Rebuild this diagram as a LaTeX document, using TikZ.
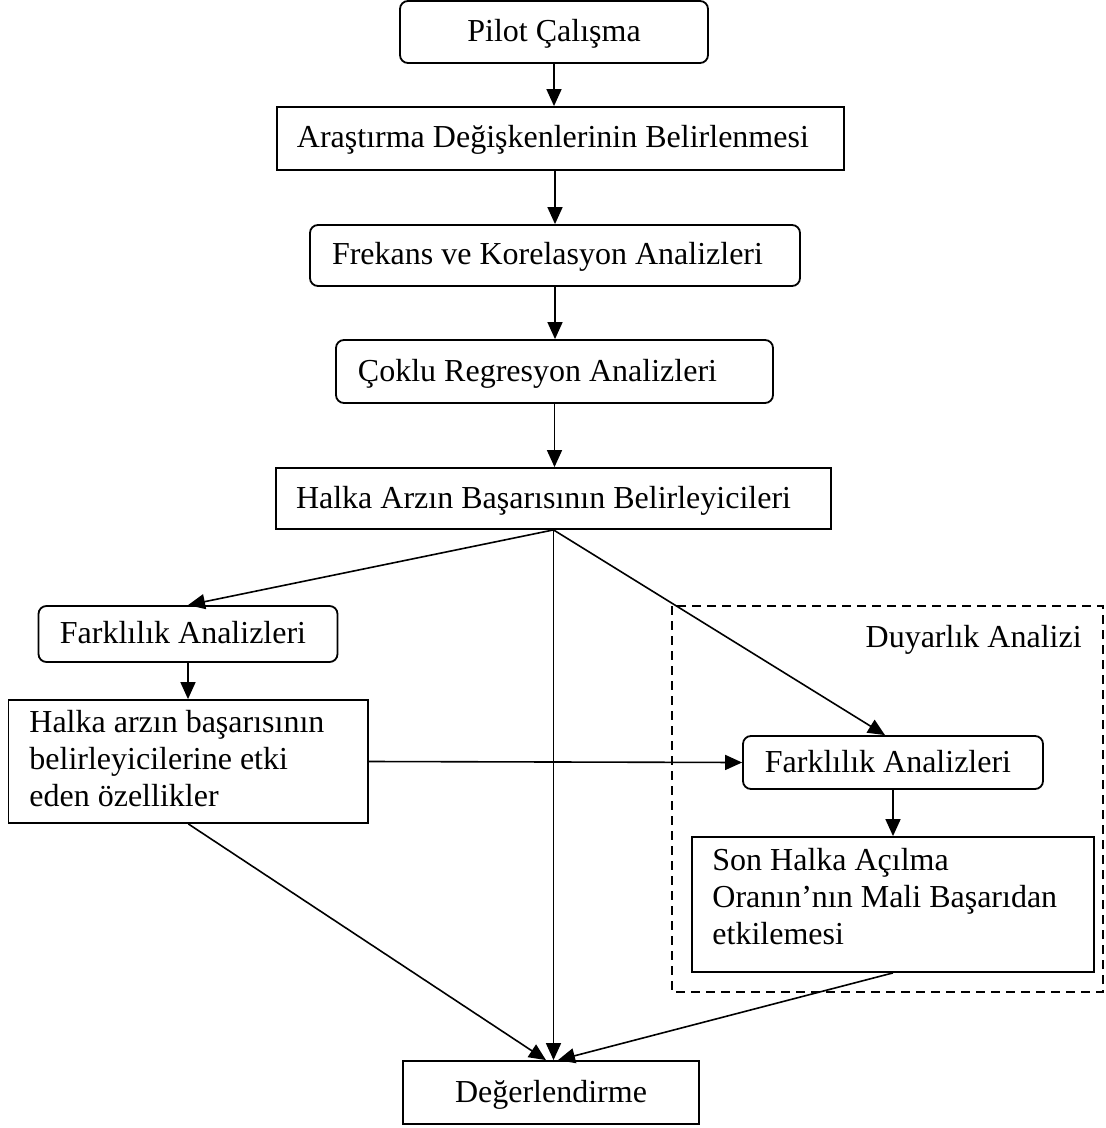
\documentclass[tikz,border=0pt]{standalone}
\usepackage{fontspec}
\setmainfont{Liberation Serif}
\usetikzlibrary{arrows.meta,calc}
\begin{document}
\begin{tikzpicture}[x=0.5pt,y=-0.5pt,
  every node/.style={font=\fontsize{16pt}{18.5pt}\selectfont},
  box/.style={draw,line width=0.9pt,inner sep=0pt,text height=11pt,text depth=1.5pt},
  rbox/.style={box,rounded corners=4pt},
  emptybox/.style={draw,line width=0.9pt,inner sep=0pt},
  txt/.style={inner sep=0pt,align=left},
  arr/.style={line width=0.8pt,-{Triangle[length=8.5pt,width=7.5pt]}},
  dashbox/.style={line width=0.8pt,dash pattern=on 4.5pt off 3pt}
]
\useasboundingbox (0,0) rectangle (1106,1128);

% boxes
\node[rbox,minimum width=154pt,minimum height=31pt] (p1) at (554,32) {Pilot Çalışma};
\node[box,minimum width=283.2pt,minimum height=31.5pt] (p2) at (560.4,138.5) {Araştırma Değişkenlerinin Belirlenmesi\kern7.5pt};
\node[rbox,minimum width=245pt,minimum height=30.5pt] (p3) at (555,255.5) {Frekans ve Korelasyon Analizleri\kern7.5pt};
\node[rbox,minimum width=218.5pt,minimum height=31.5pt] (p4) at (554.5,371.5) {Çoklu Regresyon Analizleri\kern17pt};
\node[box,minimum width=277.5pt,minimum height=30.5pt] (p5) at (553.5,498.5) {Halka Arzın Başarısının Belirleyicileri\kern10pt};
\node[rbox,minimum width=149.5pt,minimum height=28pt] (p6) at (188,634) {Farklılık Analizleri\kern5pt};
\node[emptybox,minimum width=179.85pt,minimum height=61.5pt] (p7) at (188.3,761.5) {};
\node[txt,anchor=north west] (p7t) at (29,710) {Halka arzın başarısının\\belirleyicilerine etki\\eden özellikler};

\draw[dashbox] (672,606) rectangle (1103,992);
\node[inner sep=0pt,anchor=base east] (dl) at (1082,647) {Duyarlık Analizi};

\node[rbox,minimum width=150pt,minimum height=26.5pt] (p8) at (893,762.5) {Farklılık Analizleri\kern5pt};
\node[emptybox,minimum width=201pt,minimum height=67.5pt] (p9) at (893,904.5) {};
\node[txt,anchor=north west] (p9t) at (712,848) {Son Halka Açılma\\Oranın’nın Mali Başarıdan\\etkilemesi};
\node[box,minimum width=148pt,minimum height=31.5pt] (p10) at (551,1092.5) {Değerlendirme};

% connectors
\draw[arr] (p1.south) -- (p1.south |- p2.north);
\draw[arr] (p3.north |- p2.south) -- (p3.north);
\draw[arr] (p3.south) -- (p3.south |- p4.north);
\draw[arr] (p4.south) -- (p4.south |- p5.north);
\draw[arr] (p5.south) -- (p6.north);
\draw[arr] (p6.south) -- (p6.south |- p7.north);
\draw[arr] (p5.south) -- ([xshift=-4pt]p8.north);
\draw[arr] (p5.south) -- (p5.south |- p10.north);
\draw[arr] (p7.east) -- (p8.west);
\draw[arr] (p8.south) -- (p8.south |- p9.north);
\draw[arr] (p7.south) -- ([xshift=-2.5pt]p10.north);
\draw[arr] (p9.south) -- ([xshift=3.5pt]p10.north);
\end{tikzpicture}
\end{document}
